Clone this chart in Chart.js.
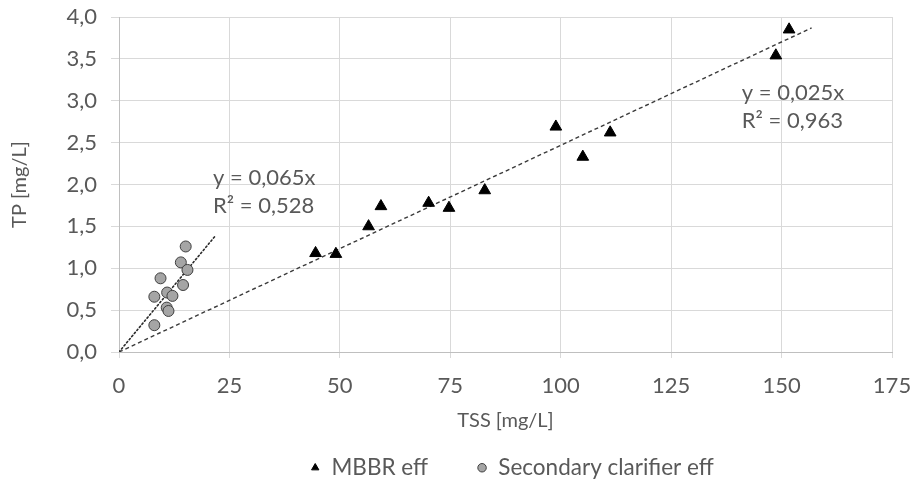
<!DOCTYPE html>
<html><head><meta charset="utf-8">
<script src="https://cdn.jsdelivr.net/npm/chart.js@4.4.0/dist/chart.umd.min.js"></script>
<style>html,body{margin:0;padding:0;background:#fff;}</style>
</head><body>
<canvas id="c" width="911" height="482"></canvas>
<script>
// ---- data ----
const seriesNames = ['MBBR eff', 'Secondary clarifier eff'];
const mbbrTSS = [44.5, 49.1, 56.5, 59.3, 70.1, 74.7, 82.8, 98.9, 105.0, 111.2, 148.7, 151.7];
const mbbrTP  = [1.18, 1.17, 1.50, 1.74, 1.78, 1.72, 1.93, 2.69, 2.33, 2.62, 3.54, 3.85];
const clarTSS = [15.1, 14.0, 15.5, 9.4, 10.9, 12.1, 14.5, 8.0, 10.8, 11.2, 8.0];
const clarTP  = [1.26, 1.07, 0.98, 0.88, 0.71, 0.67, 0.80, 0.66, 0.53, 0.49, 0.32];
const mbbrTrendTSS = [0, 156.8];
const mbbrTrendTP  = [0, 3.87];
const clarTrendTSS = [0, 21.7];
const clarTrendTP  = [0, 1.38];
const xTickLabels = ['0','25','50','75','100','125','150','175'];
const yTickLabels = ['0,0','0,5','1,0','1,5','2,0','2,5','3,0','3,5','4,0'];
const clarEquation = ['y = 0,065x', 'R² = 0,528'];
const mbbrEquation = ['y = 0,025x', 'R² = 0,963'];

const pts = (xs, ys) => xs.map((v, i) => ({x: v, y: ys[i]}));

const FONT = 'Lato';
const FS = 22;      // tick labels
const LFS = 22.5;   // legend
const TFS = 20;     // axis titles
const TXT = '#595959';
const LEG_PAD = 49;
const BOTTOM_PAD = -7;
const legendH = LFS + LEG_PAD + 10;
const PLOT_BOTTOM = 352;

const eqPlugin = {
  id: 'eqText',
  afterDatasetsDraw(chart, args, opts) {
    const {ctx} = chart;
    const xs = chart.scales.x, ys = chart.scales.y;
    ctx.save();
    ctx.font = opts.size + 'px ' + FONT;
    ctx.fillStyle = TXT;
    ctx.textAlign = 'left';
    ctx.textBaseline = 'middle';
    opts.items.forEach(it => {
      const px = xs.getPixelForValue(it.at[0]);
      const py = ys.getPixelForValue(it.at[1]);
      it.lines.forEach((t, i) => ctx.fillText(t, px, py + i * opts.gap));
    });
    ctx.restore();
  }
};

const legendShift = {
  id: 'legendShift',
  afterLayout(chart, args, opts) {
    const lg = chart.legend;
    if (!lg) return;
    const dx = opts.centerX - (lg.left + lg.right) / 2;
    lg.left += dx; lg.right += dx;
  }
};

new Chart(document.getElementById('c'), {
  type: 'scatter',
  data: {
    datasets: [
      {
        label: seriesNames[0],
        data: pts(mbbrTSS, mbbrTP),
        pointStyle: 'triangle',
        pointRadius: 6.75,
        backgroundColor: '#000',
        borderColor: '#000',
        borderWidth: 1
      },
      {
        label: seriesNames[1],
        data: pts(clarTSS, clarTP),
        pointStyle: 'circle',
        pointRadius: 5.5,
        backgroundColor: '#a5a5a5',
        borderColor: '#3f3f3f',
        borderWidth: 1
      },
      {
        label: 'trend MBBR',
        data: pts(mbbrTrendTSS, mbbrTrendTP),
        showLine: true,
        pointRadius: 0,
        borderColor: '#3a3a3a',
        borderWidth: 1.4,
        borderDash: [4, 3],
        fill: false
      },
      {
        label: 'trend clarifier',
        data: pts(clarTrendTSS, clarTrendTP),
        showLine: true,
        pointRadius: 0,
        borderColor: '#2a2a2a',
        borderWidth: 1.6,
        borderDash: [1.5, 2.5],
        borderCapStyle: 'round',
        fill: false
      }
    ]
  },
  options: {
    responsive: false,
    animation: false,
    devicePixelRatio: 1,
    layout: { padding: { left: 0, right: 19, top: 17, bottom: BOTTOM_PAD } },
    scales: {
      x: {
        type: 'linear',
        min: 0, max: 175,
        afterFit: s => {
          s.height = 482 - BOTTOM_PAD - legendH - PLOT_BOTTOM;
          s.paddingLeft = 0; s.paddingRight = 0;
        },
        ticks: {
          stepSize: 25,
          padding: 15,
          color: TXT,
          font: { family: FONT, size: FS },
          maxRotation: 0,
          callback: (v, i) => xTickLabels[i]
        },
        grid: { color: '#d9d9d9', tickColor: '#d9d9d9', tickLength: 6, lineWidth: 1 },
        border: { color: '#bfbfbf' },
        title: {
          display: true, text: 'TSS [mg/L]', color: TXT,
          font: { family: FONT, size: TFS },
          padding: { top: 0, bottom: -25 }
        }
      },
      y: {
        type: 'linear',
        min: 0, max: 4,
        afterFit: s => {
          s.width = 119;
          s.paddingTop = 0; s.paddingBottom = 0;
        },
        ticks: {
          stepSize: 0.5,
          padding: 14,
          color: TXT,
          font: { family: FONT, size: FS },
          callback: (v, i) => yTickLabels[i]
        },
        grid: { color: '#d9d9d9', tickColor: '#d9d9d9', tickLength: 8, lineWidth: 1 },
        border: { color: '#bfbfbf' },
        title: {
          display: true, text: 'TP [mg/L]', color: TXT,
          font: { family: FONT, size: TFS },
          padding: { top: 8, bottom: 0 }
        }
      }
    },
    plugins: {
      tooltip: { enabled: false },
      legend: {
        position: 'bottom',
        labels: {
          usePointStyle: true,
          boxWidth: 10,
          boxHeight: 6,
          padding: LEG_PAD,
          color: TXT,
          font: { family: FONT, size: LFS },
          filter: item => item.datasetIndex < 2
        }
      },
      legendShift: { centerX: 512 },
      eqText: {
        size: 22,
        gap: 28,
        items: [
          { at: [21.3, 2.08], lines: clarEquation },
          { at: [141.0, 3.09], lines: mbbrEquation }
        ]
      }
    }
  },
  plugins: [eqPlugin, legendShift]
});
</script>
</body></html>
